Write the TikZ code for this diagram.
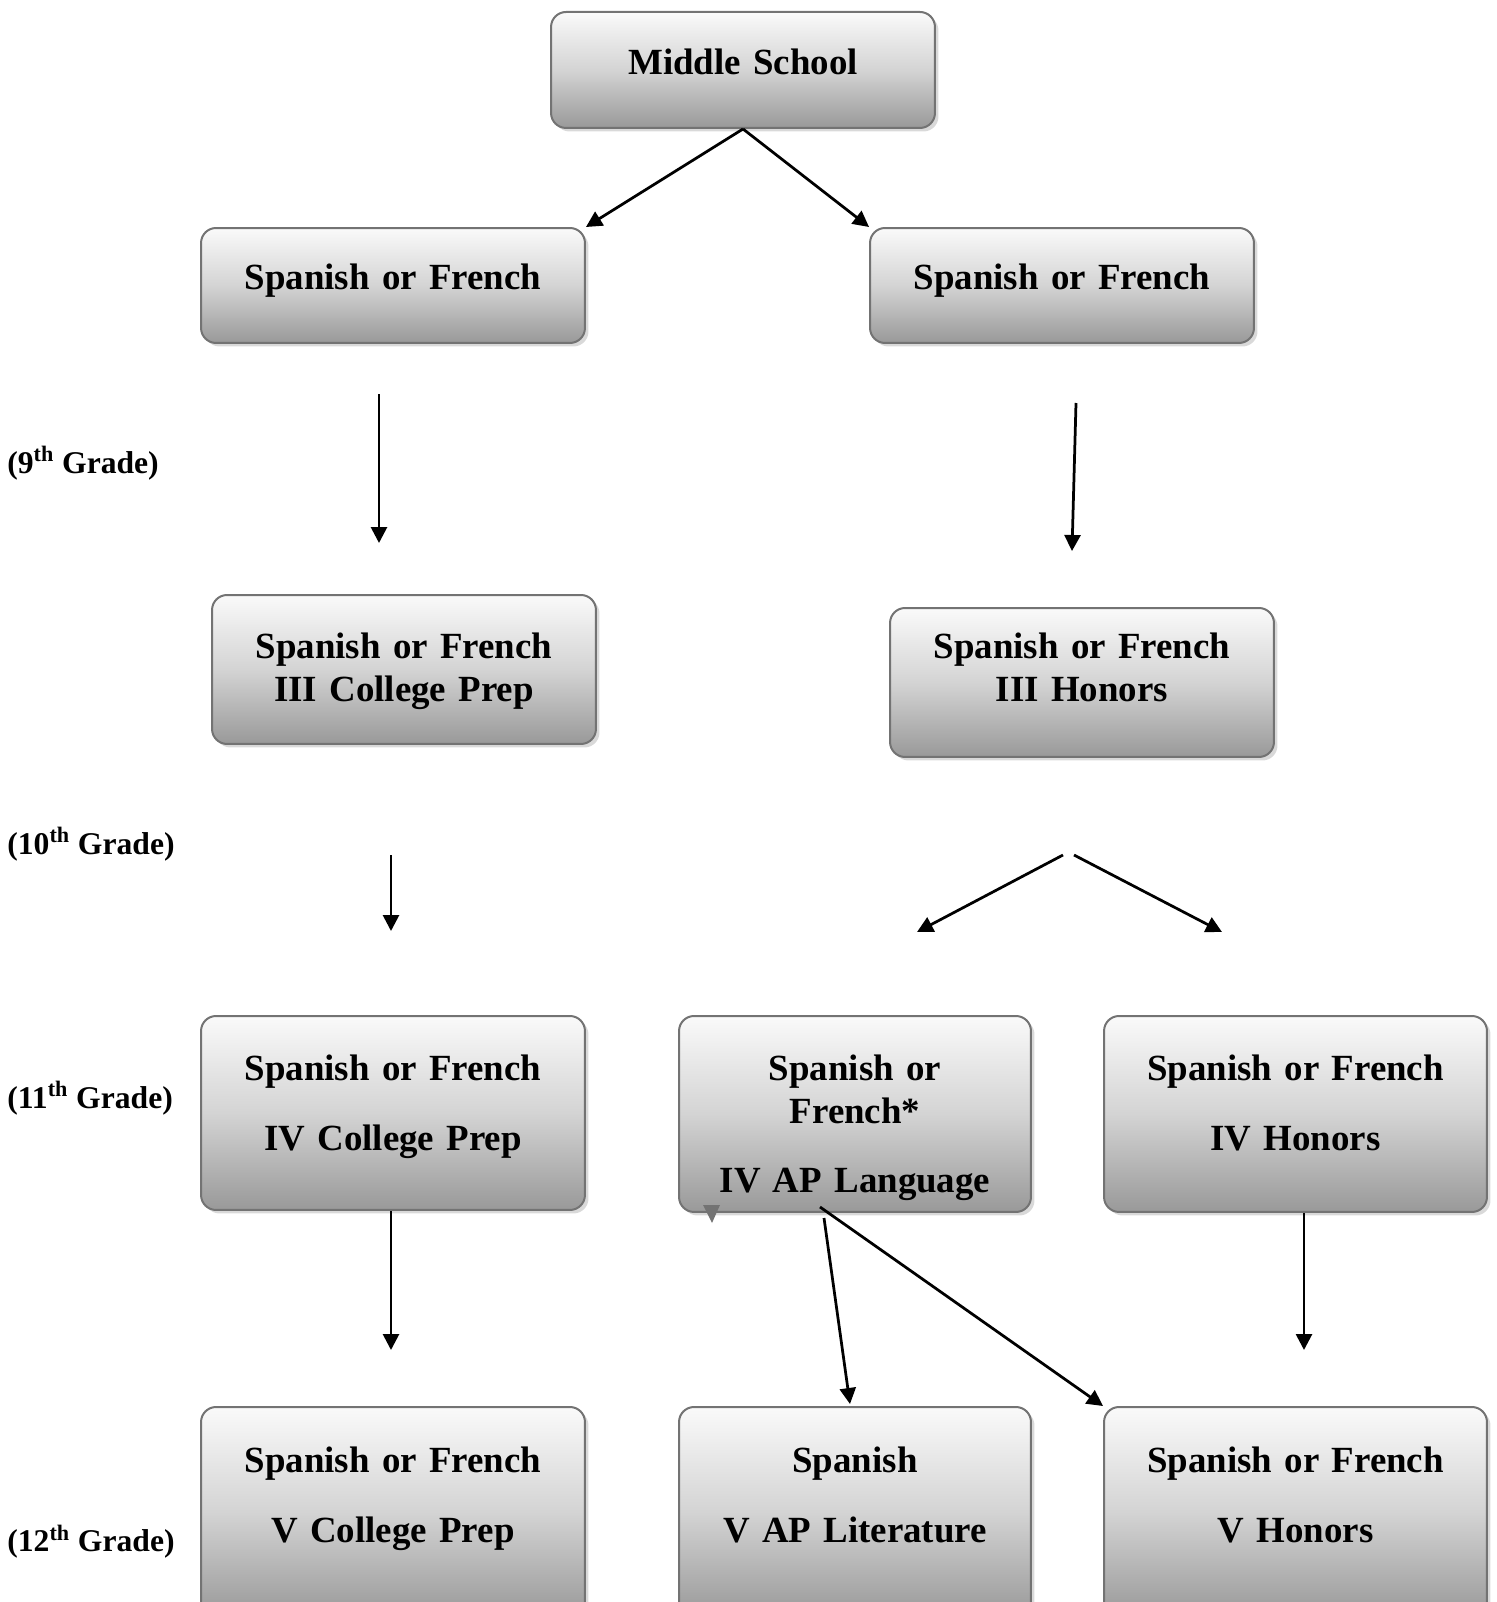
\documentclass[tikz,border=0pt]{standalone}
\usepackage{fontspec}
\setmainfont{Liberation Serif}
\usetikzlibrary{arrows.meta,shadows}

\tikzset{
  course/.style={draw=black!55, line width=0.04cm, rounded corners=0.3cm,
    top color=black!2, bottom color=black!40, middle color=black!17,
    drop shadow={shadow xshift=0.07cm, shadow yshift=-0.07cm, opacity=0.3},
    anchor=north, inner sep=0pt, align=center,
    font=\fontsize{21}{24.4}\selectfont\bfseries},
  grade/.style={anchor=base west, inner sep=0pt,
    font=\fontsize{18}{20}\selectfont\bfseries},
  flow/.style={-{Triangle[length=0.32cm, width=0.32cm]}, line width=0.055cm},
}

\begin{document}
\begin{tikzpicture}[x=0.02cm, y=-0.02cm]

\useasboundingbox (0,0) rectangle (1497,1602);

\def\wide{7.68cm}; % cp / honors boxes
\def\narrow{7.04cm}; % AP boxes

\def\xl{393}; % left column
\def\xm{855}; % AP column
\def\xr{1295.5}; % right column

% middle school and first split
\node[course, minimum width=\wide, text width=7.4cm, text height=1.26cm, text depth=1.06cm] (ms) at (743,11) {Middle School};

\node[course, minimum width=\wide, text width=7.4cm, text height=1.24cm, text depth=1.06cm] (sfa) at (\xl,227) {Spanish or French};
\node[course, minimum width=\wide, text width=7.4cm, text height=1.24cm, text depth=1.06cm] (sfb) at (1062,227) {Spanish or French};

% 9th grade
\node[course, minimum width=\wide, text width=7.4cm, text height=1.28cm, text depth=1.70cm] (cp3) at (404,594) {Spanish or French\\III College Prep};
\node[course, minimum width=\wide, text width=7.4cm, text height=1.02cm, text depth=1.96cm] (hon3) at (1082,607) {Spanish or French\\III Honors};

% 11th grade
\node[course, minimum width=\wide, text width=7.4cm, text height=1.30cm, text depth=2.58cm] (cp4) at (\xl,1015) {Spanish or French\\[15pt]IV College Prep};
\node[course, minimum width=\narrow, text width=6.8cm, text height=1.30cm, text depth=2.62cm] (apl4) at (\xm,1015) {Spanish or\\French*\\[14.5pt]IV AP Language};
\node[course, minimum width=7.66cm, text width=7.4cm, text height=1.30cm, text depth=2.62cm] (hon4) at (\xr,1015) {Spanish or French\\[15pt]IV Honors};

% 12th grade
\node[course, minimum width=\wide, text width=7.4cm, text height=1.30cm, text depth=2.90cm] (cp5) at (\xl,1406) {Spanish or French\\[16pt]V College Prep};
\node[course, minimum width=\narrow, text width=6.8cm, text height=1.30cm, text depth=2.90cm] (apl5) at (\xm,1406) {Spanish\\[16pt]V AP Literature};
\node[course, minimum width=7.66cm, text width=7.4cm, text height=1.30cm, text depth=2.90cm] (hon5) at (\xr,1406) {Spanish or French\\[16pt]V Honors};

% grade labels
\node[grade] (g9) at (7,473) {(9\textsuperscript{th} Grade)};
\node[grade] (g10) at (7,854) {(10\textsuperscript{th} Grade)};
\node[grade] (g11) at (7,1108) {(11\textsuperscript{th} Grade)};
\node[grade] (g12) at (7,1551) {(12\textsuperscript{th} Grade)};

% free arrow ends
\coordinate (a1s) at (379,394);
\coordinate (a1e) at (379,543);
\coordinate (b1s) at (1076,403);
\coordinate (b1e) at (1072,551);
\coordinate (a2s) at (391,855);
\coordinate (a2e) at (391,931);
\coordinate (b2s) at (1063,855);
\coordinate (b2e) at (917,932);
\coordinate (c2s) at (1074,855);
\coordinate (c2e) at (1222,932);
\coordinate (a3s) at (391,1211);
\coordinate (a3e) at (391,1350);
\coordinate (b3s) at (824,1218);
\coordinate (b3e) at (850,1404);
\coordinate (c3s) at (820,1207);
\coordinate (d3s) at (1304,1213);
\coordinate (d3e) at (1304,1350);

\draw[flow] (ms.south) -- (sfa.north east);
\draw[flow] (ms.south) -- (sfb.north west);

\draw[flow] (a1s) -- (a1e);
\draw[flow] (b1s) -- (b1e);

\draw[flow] (a2s) -- (a2e);
\draw[flow] (b2s) -- (b2e);
\draw[flow] (c2s) -- (c2e);

\draw[flow] (a3s) -- (a3e);
\draw[flow] (b3s) -- (b3e);
\draw[flow] (c3s) -- (hon5.north west);
\draw[flow] (d3s) -- (d3e);

% stray tip under the AP box
\fill[black!55] (703,1205) -- (720,1205) -- (712,1223) -- cycle;

\end{tikzpicture}
\end{document}
